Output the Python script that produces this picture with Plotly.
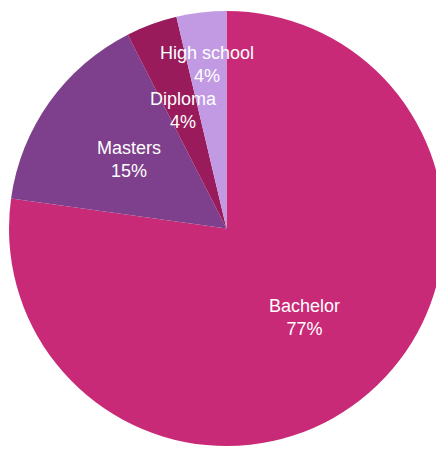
import math
import plotly.graph_objects as go

labels = ["Bachelor", "Masters", "Diploma", "High school"]
values = [77.2, 15.3, 3.8, 3.7]
colors = ["#C92A77", "#7E3F8C", "#9A1B5C", "#C29AE4"]
# radial position of each label as a fraction of the radius (style only)
label_radius = [0.545, 0.55, 0.58, 0.76]

fig = go.Figure(go.Pie(
    labels=labels,
    values=values,
    sort=False,
    direction="clockwise",
    rotation=0,
    marker=dict(colors=colors, line=dict(width=0)),
    textinfo="none",
    hoverinfo="label+percent",
    domain=dict(x=[0, 1], y=[0, 1]),
))

total = sum(values)
cum = 0.0
annotations = []
for lab, v, f in zip(labels, values, label_radius):
    mid = (cum + v / 2) / total * 2 * math.pi
    cum += v
    x = 0.5 + 0.5 * f * math.sin(mid)
    y = 0.5 + 0.5 * f * math.cos(mid)
    annotations.append(dict(
        x=x, y=y, xref="paper", yref="paper",
        text=f"{lab}<br>{round(v / total * 100)}%",
        showarrow=False, xanchor="center", yanchor="middle",
        font=dict(family="Liberation Sans, Arial, sans-serif", size=18, color="white"),
    ))

fig.update_layout(
    width=436,
    height=441,
    margin=dict(l=1, r=0, t=3, b=3),
    showlegend=False,
    paper_bgcolor="white",
    plot_bgcolor="white",
    annotations=annotations,
)

fig.write_html("out.html")
